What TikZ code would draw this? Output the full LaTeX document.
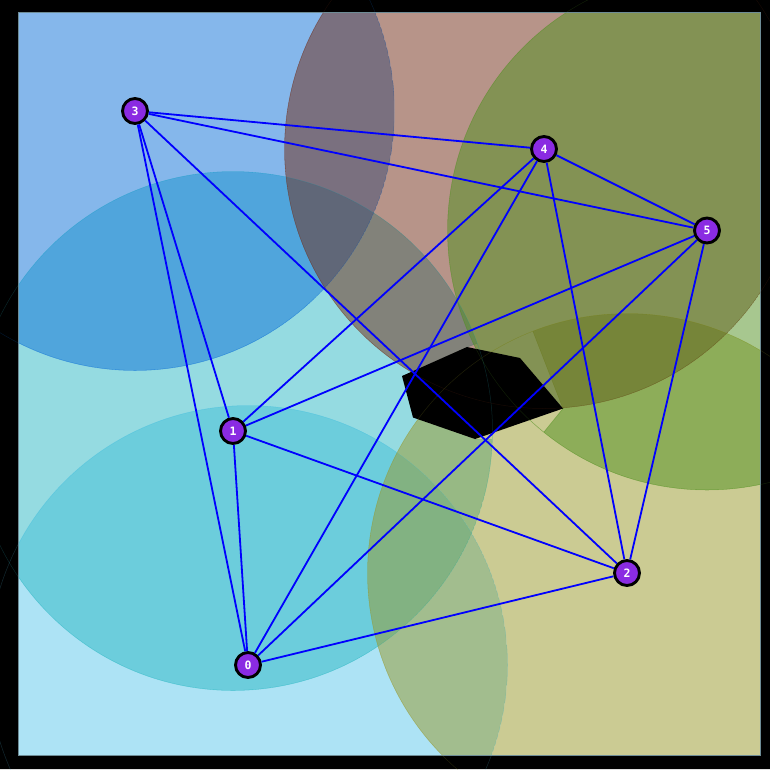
\documentclass[tikz,border=0pt]{standalone}
\usepackage{fontspec}
\newfontfamily\labelfont{DejaVu Sans Mono}
\usetikzlibrary{calc,backgrounds}
\definecolor{zone0}{RGB}{93,201,237}
\definecolor{zone1}{RGB}{45,185,197}
\definecolor{zone2}{RGB}{153,153,41}
\definecolor{zone3}{RGB}{13,113,217}
\definecolor{zone4}{RGB}{113,43,21}
\definecolor{zone5}{RGB}{81,145,33}
\definecolor{botviolet}{RGB}{138,43,226}
\definecolor{rim}{RGB}{110,140,150}

\begin{document}
\begin{tikzpicture}[x=1pt,y=-1pt]
                \tikzstyle{every node}+=[inner sep=0pt]
                \tikzstyle{robot}=[circle,draw=black,line width=2.9pt,fill=botviolet,minimum size=25pt,text=white,font=\labelfont\bfseries\fontsize{11.5}{13}\selectfont]
                \tikzstyle{link}=[draw=blue,line width=1.8pt]
                \tikzstyle{zone}=[fill opacity=0.5,draw opacity=0.5,line width=0.6pt,even odd rule]
                \useasboundingbox (0,0) rectangle (770,769);
                \coordinate (p0) at (248,665);
                \coordinate (p1) at (233,431);
                \coordinate (p2) at (627,573);
                \coordinate (p3) at (135,111);
                \coordinate (p4) at (544,149);
                \coordinate (p5) at (707,230.5);
                \coordinate (h1) at (402,376);
                \coordinate (h2) at (467,347);
                \coordinate (h3) at (520,358);
                \coordinate (h4) at (563,408.5);
                \coordinate (h5) at (475,439);
                \coordinate (h6) at (413,417.5);
                \node[robot] (n0) at (p0) {0};
                \node[robot] (n1) at (p1) {1};
                \node[robot] (n2) at (p2) {2};
                \node[robot] (n3) at (p3) {3};
                \node[robot] (n4) at (p4) {4};
                \node[robot] (n5) at (p5) {5};
                \begin{scope}[on background layer]
                \fill [white] (18,12.7) rectangle (760.5,755);
                \begin{scope}
                \clip (18,12.7) rectangle (760.5,755);
                \begin{scope}
                \clip (p0) circle (259.5pt);
                \filldraw [zone,fill=zone0,draw=zone0] (p0) circle (259.5pt);
                \end{scope}
                \begin{scope}
                \clip (p1) circle (259.5pt);
                \filldraw [zone,fill=zone1,draw=zone1] (p1) circle (259.5pt) (h2) -- ($(p1)!8!(h2)$) -- ($(p1)!8!(h5)$) -- (h5) -- cycle;
                \end{scope}
                \begin{scope}
                \clip (p2) circle (259.5pt);
                \filldraw [zone,fill=zone2,draw=zone2] (p2) circle (259.5pt) (h6) -- ($(p2)!8!(h6)$) -- ($(p2)!8!(h4)$) -- (h4) -- cycle;
                \end{scope}
                \begin{scope}
                \clip (p3) circle (259.5pt);
                \filldraw [zone,fill=zone3,draw=zone3] (p3) circle (259.5pt);
                \end{scope}
                \begin{scope}
                \clip (p4) circle (259.5pt);
                \filldraw [zone,fill=zone4,draw=zone4] (p4) circle (259.5pt) (h4) -- ($(p4)!8!(h4)$) -- ($(p4)!8!(h1)$) -- (h1) -- cycle;
                \end{scope}
                \begin{scope}
                \clip (p5) circle (259.5pt);
                \filldraw [zone,fill=zone5,draw=zone5] (p5) circle (259.5pt) (h4) -- ($(p5)!8!(h4)$) -- ($(p5)!8!(h1)$) -- (h1) -- cycle;
                \end{scope}
                \fill [black] (h1) -- (h2) -- (h3) -- (h4) -- (h5) -- (h6) -- cycle;
                \end{scope}
                \fill [black,even odd rule] (0,0) rectangle (770,769) (18,12.7) rectangle (760.5,755);
                \draw [rim,line width=1pt] (18,12.7) rectangle (760.5,755);
                \draw [zone0,opacity=0.2,line width=0.5pt] (p0) circle (259.5pt);
                \draw [zone1,opacity=0.2,line width=0.5pt] (p1) circle (259.5pt);
                \draw [zone2,opacity=0.2,line width=0.5pt] (p2) circle (259.5pt);
                \draw [zone3,opacity=0.2,line width=0.5pt] (p3) circle (259.5pt);
                \draw [zone4,opacity=0.2,line width=0.5pt] (p4) circle (259.5pt);
                \draw [zone5,opacity=0.2,line width=0.5pt] (p5) circle (259.5pt);
                \end{scope}
                \draw [link] (n3) -- (n4);
                \draw [link] (n3) -- (n5);
                \draw [link] (n3) -- (n1);
                \draw [link] (n3) -- (n0);
                \draw [link] (n3) -- (n2);
                \draw [link] (n4) -- (n5);
                \draw [link] (n4) -- (n1);
                \draw [link] (n4) -- (n0);
                \draw [link] (n4) -- (n2);
                \draw [link] (n5) -- (n1);
                \draw [link] (n5) -- (n0);
                \draw [link] (n5) -- (n2);
                \draw [link] (n1) -- (n0);
                \draw [link] (n1) -- (n2);
                \draw [link] (n0) -- (n2);
\end{tikzpicture}
\end{document}
